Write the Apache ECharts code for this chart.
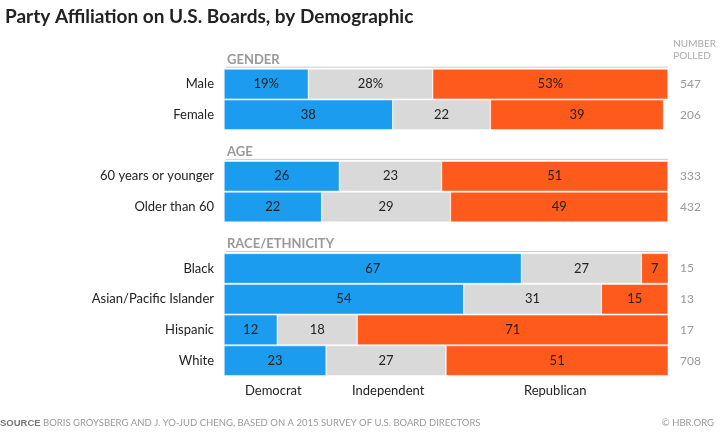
<!DOCTYPE html>
<html><head><meta charset="utf-8">
<script src="https://cdn.jsdelivr.net/npm/echarts@6/dist/echarts.min.js"></script>
<style>body{margin:0}#c{width:720px;height:436px}</style>
</head><body><div id="c"></div>
<script>
var categories = ['GENDER', 'Male', 'Female', 'AGE', '60 years or younger', 'Older than 60',
    'RACE/ETHNICITY', 'Black', 'Asian/Pacific Islander', 'Hispanic', 'White'];
var headers = ['GENDER', 'AGE', 'RACE/ETHNICITY'];
var democrat    = [null, 19, 38, null, 26, 22, null, 67, 54, 12, 23];
var independent = [null, 28, 22, null, 23, 29, null, 27, 31, 18, 27];
var republican  = [null, 53, 39, null, 51, 49, null, 7, 15, 71, 51];
var polled      = ['', '547', '206', '', '333', '432', '', '15', '13', '17', '708'];

var chart = echarts.init(document.getElementById('c'));
var font = 'Lato';

function lab(p) {
    return p.dataIndex == 1 ? p.value + '%' : p.value;
}
function mkSeries(name, data, color) {
    return {
        name: name, type: 'bar', stack: 'a', data: data,
        barCategoryGap: '2%',
        itemStyle: {color: color, borderColor: '#fff', borderWidth: 0.5},
        label: {show: true, position: 'inside', color: '#222', fontSize: 13, fontFamily: font, formatter: lab}
    };
}
var headerData = categories.map(function (c) { return headers.indexOf(c) >= 0 ? 100 : null; });

chart.setOption({
    animation: false,
    textStyle: {fontFamily: font},
    title: [{
        text: 'Party Affiliation on U.S. Boards, by Demographic', left: 0, top: 2,
        textStyle: {fontSize: 19, fontWeight: 'bold', color: '#222', fontFamily: font}
    }],
    grid: {left: 224, right: 52, top: 38, bottom: 60},
    xAxis: {type: 'value', min: 0, max: 100, show: false},
    yAxis: [{
        type: 'category', data: categories, inverse: true,
        axisLine: {show: false}, axisTick: {show: false},
        axisLabel: {
            color: '#222', fontSize: 13, margin: 10,
            formatter: function (v) { return headers.indexOf(v) >= 0 ? '' : v; }
        }
    }, {
        type: 'category', data: polled, inverse: true, position: 'right',
        axisLine: {show: false}, axisTick: {show: false},
        axisLabel: {color: '#999', fontSize: 12, margin: 12, align: 'left'}
    }],
    series: [
        {
            name: 'header', type: 'bar', data: headerData, barGap: '-100%',
            itemStyle: {color: 'rgba(0,0,0,0)'}, silent: true,
            label: {
                show: true, position: 'insideLeft', offset: [-2, 6], color: '#999',
                fontWeight: 'bold', fontSize: 13,
                formatter: function (p) { return categories[p.dataIndex]; }
            }
        },
        mkSeries('Democrat', democrat, '#1c9cef'),
        mkSeries('Independent', independent, '#d9d9d9'),
        mkSeries('Republican', republican, '#fd5a1c')
    ],
    graphic: [
        {type: 'text', right: 4, top: 38, style: {text: 'NUMBER\nPOLLED', fill: '#aaa', font: '10px Lato', align: 'center', lineHeight: 12}},
        {type: 'text', left: 245, top: 384, style: {text: 'Democrat', fill: '#222', font: '13px Lato'}},
        {type: 'text', left: 352, top: 384, style: {text: 'Independent', fill: '#222', font: '13px Lato'}},
        {type: 'text', left: 524, top: 384, style: {text: 'Republican', fill: '#222', font: '13px Lato'}},
        {type: 'text', left: 0, top: 418, style: {text: '{b|SOURCE} BORIS GROYSBERG AND J. YO-JUD CHENG, BASED ON A 2015 SURVEY OF U.S. BOARD DIRECTORS',
            fill: '#999', font: '9.5px Lato', rich: {b: {fontWeight: 'bold', fill: '#777', fontSize: 9.5}}}},
        {type: 'text', right: 6, top: 418, style: {text: '© HBR.ORG', fill: '#999', font: '9.5px Lato'}}
    ]
});

// separator lines below each section header
var lines = [];
headers.forEach(function (h) {
    var y0 = chart.convertToPixel({yAxisIndex: 0}, h);
    var step = chart.convertToPixel({yAxisIndex: 0}, categories[categories.indexOf(h) + 1]) - y0;
    var y = y0 + step * 0.45;
    lines.push({type: 'line', shape: {x1: 226, y1: y, x2: 668, y2: y}, style: {stroke: '#ccc', lineWidth: 1}});
});
chart.setOption({graphic: lines.map(function (l, i) { l.id = 'ln' + i; return l; })});
</script></body></html>
